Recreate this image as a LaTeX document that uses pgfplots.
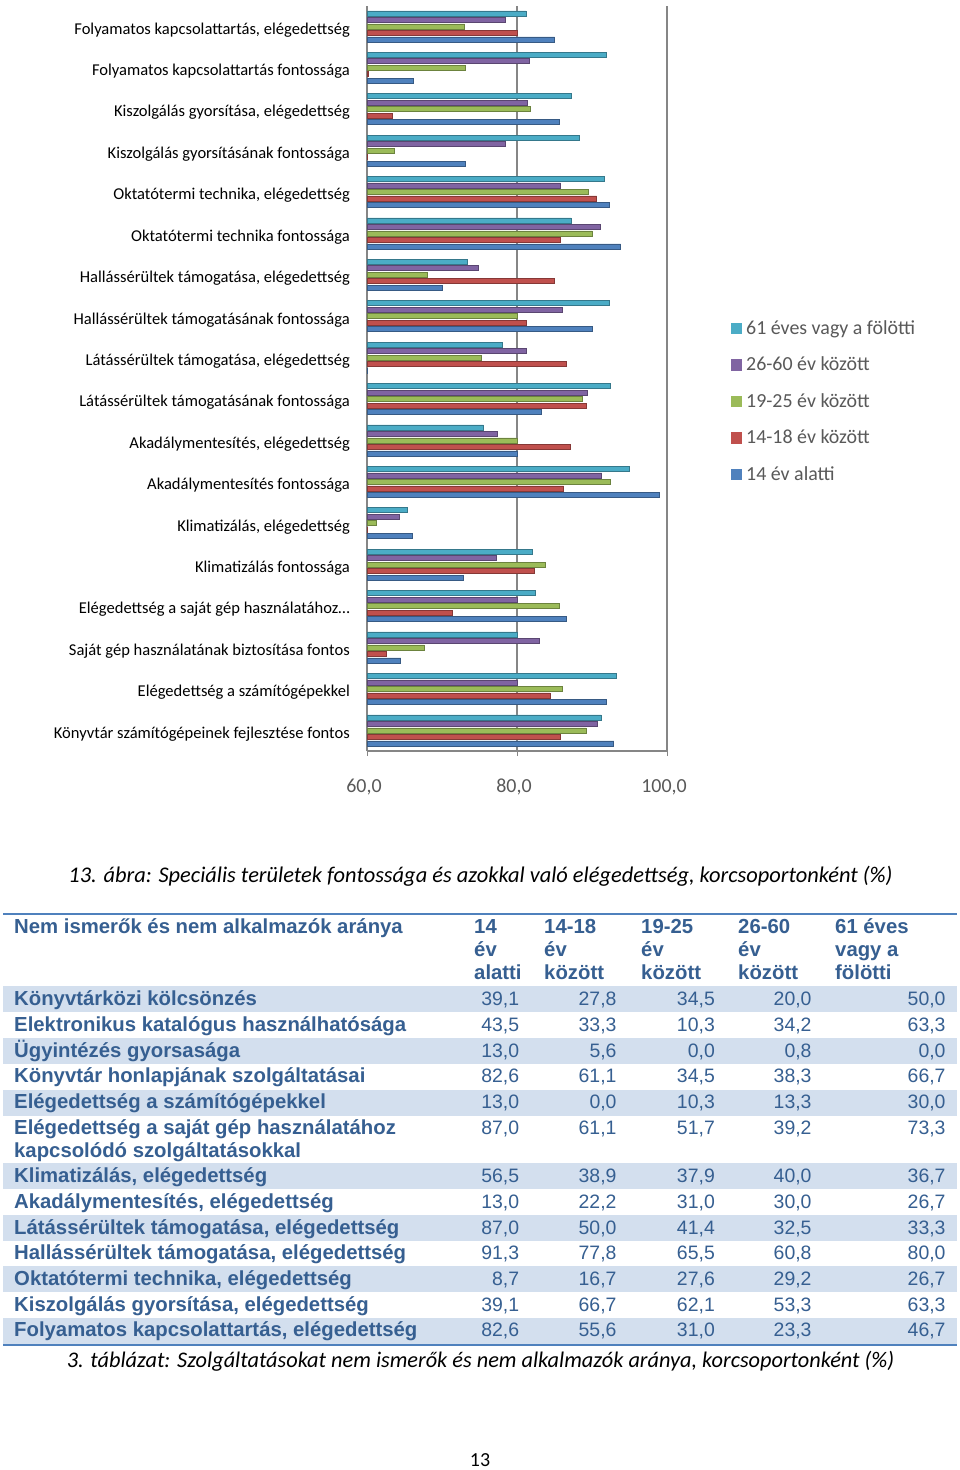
\documentclass[border=0pt]{standalone}
\usepackage{fontspec}
\setmainfont{Carlito}
\newfontfamily\arial{Liberation Sans}
\usepackage{pgfplots}
\pgfplotsset{compat=1.18}
\definecolor{cC}{HTML}{4BACC6}
\definecolor{cP}{HTML}{8064A2}
\definecolor{cG}{HTML}{9BBB59}
\definecolor{cR}{HTML}{C0504D}
\definecolor{cB}{HTML}{4F81BD}
\definecolor{tblue}{HTML}{365F91}
\definecolor{tshade}{HTML}{D3DFEE}
\definecolor{trule}{HTML}{4F81BD}
\definecolor{axgray}{HTML}{868686}
\definecolor{labgray}{HTML}{595959}
\tikzset{
 tl/.style={anchor=base west, inner sep=0pt, text=tblue, font=\arial\bfseries\fontsize{20.4}{24}\selectfont},
 tn/.style={anchor=base east, inner sep=0pt, text=tblue, font=\arial\fontsize{19.5}{24}\selectfont},
}
\newcommand{\trow}[7]{%
 \node[tl] at (14bp,-#1bp) {#2};
 \node[tn] at (519.3bp,-#1bp) {#3};
 \node[tn] at (616.7bp,-#1bp) {#4};
 \node[tn] at (715bp,-#1bp) {#5};
 \node[tn] at (811.7bp,-#1bp) {#6};
 \node[tn] at (945.7bp,-#1bp) {#7};}
\begin{document}
\begin{tikzpicture}
\path[use as bounding box, fill=white] (0bp,0bp) rectangle (960bp,-1470bp);
\begin{axis}[
 at={(367bp,-751bp)}, anchor=south west,
 scale only axis, width=300bp, height=745.4bp,
 xmin=60, xmax=100, ymin=-0.5, ymax=17.5,
 xbar, bar width=5bp,
 axis lines*=left,
 axis line style={-, draw=axgray, line width=1.2bp},
 xmajorgrids, major x grid style={draw=axgray, line width=1.2bp},
 tick align=outside, major tick length=5bp, minor tick length=5bp,
 xtick={60,80,100},
 xticklabels={{60,0},{80,0},{100,0}},
 xtick style={draw=axgray, line width=1bp},
 xticklabel style={anchor=north, inner sep=0pt, yshift=-23bp, xshift=-3bp, text=labgray, font=\fontsize{20}{24}\selectfont},
 ytick=\empty,
 minor ytick={-0.5,0.5,...,17.5},
 minor y tick style={draw=axgray, line width=1bp},
 extra y ticks={0,1,...,17},
 extra y tick labels={Könyvtár számítógépeinek fejlesztése fontos,
  Elégedettség a számítógépekkel,
  Saját gép használatának biztosítása fontos,
  Elégedettség a saját gép használatához…,
  Klimatizálás fontossága,
  {Klimatizálás, elégedettség},
  Akadálymentesítés fontossága,
  {Akadálymentesítés, elégedettség},
  Látássérültek támogatásának fontossága,
  {Látássérültek támogatása, elégedettség},
  Hallássérültek támogatásának fontossága,
  {Hallássérültek támogatása, elégedettség},
  Oktatótermi technika fontossága,
  {Oktatótermi technika, elégedettség},
  Kiszolgálás gyorsításának fontossága,
  {Kiszolgálás gyorsítása, elégedettség},
  Folyamatos kapcsolattartás fontossága,
  {Folyamatos kapcsolattartás, elégedettség}},
 extra y tick style={major tick length=0bp, ytick style={draw=none},
  yticklabel style={anchor=east, inner sep=0pt, xshift=-17bp, yshift=-3.5bp, text=black, font=\fontsize{16.6}{20}\selectfont}},
 legend style={at={(1.2123,0.5782)}, anchor=north west, draw=none, fill=none,
  inner sep=0pt, outer sep=0pt, font=\fontsize{20}{24}\selectfont, text=labgray,
  row sep=18.5bp, column sep=4bp,
  nodes={inner sep=0pt, text height=14bp, text depth=4bp},
  cells={anchor=base west}},
 legend image code/.code={\fill[#1, draw=none] (0bp,0bp) rectangle (11.5bp,11.5bp);},
]
\addplot[bar shift=13bp, fill=cC, draw=cC!70!black, line width=0.6bp] coordinates {
(91.2,0) (93.2,1) (80.0,2) (82.5,3) (82.1,4) (65.4,5) (95.0,6) (75.5,7) (92.4,8)
(78.0,9) (92.3,10) (73.4,11) (87.2,12) (91.7,13) (88.3,14) (87.2,15) (91.9,16) (81.2,17)};
\addlegendentry{61 éves vagy a fölötti}
\addplot[bar shift=6.5bp, fill=cP, draw=cP!70!black, line width=0.6bp] coordinates {
(90.7,0) (80.0,1) (83.0,2) (80.0,3) (77.3,4) (64.3,5) (91.3,6) (77.4,7) (89.4,8)
(81.2,9) (86.1,10) (74.9,11) (91.1,12) (85.8,13) (78.5,14) (81.4,15) (81.6,16) (78.5,17)};
\addlegendentry{26-60 év között}
\addplot[bar shift=0bp, fill=cG, draw=cG!70!black, line width=0.6bp] coordinates {
(89.2,0) (86.1,1) (67.6,2) (85.6,3) (83.8,4) (61.2,5) (92.5,6) (80.0,7) (88.7,8)
(75.3,9) (80.0,10) (68.1,11) (90.0,12) (89.5,13) (63.6,14) (81.8,15) (73.1,16) (73.0,17)};
\addlegendentry{19-25 év között}
\addplot[bar shift=-6.5bp, fill=cR, draw=cR!70!black, line width=0.6bp] coordinates {
(85.8,0) (84.4,1) (62.6,2) (71.4,3) (82.3,4) (60.1,5) (86.2,6) (87.1,7) (89.2,8)
(86.6,9) (81.3,10) (85.0,11) (85.8,12) (90.6,13) (60.1,14) (63.4,15) (60.2,16) (80.0,17)};
\addlegendentry{14-18 év között}
\addplot[bar shift=-13bp, fill=cB, draw=cB!70!black, line width=0.6bp] coordinates {
(92.9,0) (91.9,1) (64.5,2) (86.6,3) (72.8,4) (66.1,5) (99.0,6) (80.0,7) (83.3,8)
(60.1,9) (90.0,10) (70.0,11) (93.8,12) (92.3,13) (73.1,14) (85.6,15) (66.2,16) (85.0,17)};
\addlegendentry{14 év alatti}
\end{axis}
% caption
\node[anchor=base, inner sep=0pt, font=\itshape\fontsize{22.5}{26}\selectfont] at (480.5bp,-882.5bp)
 {13. ábra: Speciális területek fontossága és azokkal való elégedettség, korcsoportonként (\%)};
% table shading and rules
\foreach \a/\b in {986/1012,1038/1064,1090/1116,1163/1189,1214.5/1240.5,1266/1292,1317.5/1343.5}
 \fill[tshade] (3bp,-\a bp) rectangle (957bp,-\b bp);
\draw[trule, line width=2.5bp] (3bp,-914bp) -- (957bp,-914bp);
\draw[trule, line width=1.5bp] (3bp,-1345bp) -- (957bp,-1345bp);
% header
\node[tl] at (14bp,-933.7bp) {Nem ismerők és nem alkalmazók aránya};
\foreach \x/\l/\m/\n in {474/14/év/alatti,544/14-18/év/között,641/19-25/év/között,738/26-60/év/között,835/61 éves/vagy a/fölötti}{
 \node[tl] at (\x bp,-933.7bp) {\l};
 \node[tl] at (\x bp,-956.7bp) {\m};
 \node[tl] at (\x bp,-979.7bp) {\n};}
% rows
\trow{1005.7}{Könyvtárközi kölcsönzés}{39,1}{27,8}{34,5}{20,0}{50,0}
\trow{1031.4}{Elektronikus katalógus használhatósága}{43,5}{33,3}{10,3}{34,2}{63,3}
\trow{1057}{Ügyintézés gyorsasága}{13,0}{5,6}{0,0}{0,8}{0,0}
\trow{1082.7}{Könyvtár honlapjának szolgáltatásai}{82,6}{61,1}{34,5}{38,3}{66,7}
\trow{1108.4}{Elégedettség a számítógépekkel}{13,0}{0,0}{10,3}{13,3}{30,0}
\trow{1134}{Elégedettség a saját gép használatához}{87,0}{61,1}{51,7}{39,2}{73,3}
\node[tl] at (14bp,-1157bp) {kapcsolódó szolgáltatásokkal};
\trow{1182.7}{Klimatizálás, elégedettség}{56,5}{38,9}{37,9}{40,0}{36,7}
\trow{1208.4}{Akadálymentesítés, elégedettség}{13,0}{22,2}{31,0}{30,0}{26,7}
\trow{1234}{Látássérültek támogatása, elégedettség}{87,0}{50,0}{41,4}{32,5}{33,3}
\trow{1259.7}{Hallássérültek támogatása, elégedettség}{91,3}{77,8}{65,5}{60,8}{80,0}
\trow{1285.4}{Oktatótermi technika, elégedettség}{8,7}{16,7}{27,6}{29,2}{26,7}
\trow{1311}{Kiszolgálás gyorsítása, elégedettség}{39,1}{66,7}{62,1}{53,3}{63,3}
\trow{1336.7}{Folyamatos kapcsolattartás, elégedettség}{82,6}{55,6}{31,0}{23,3}{46,7}
\node[anchor=base, inner sep=0pt, font=\itshape\fontsize{22.4}{26}\selectfont] at (480.5bp,-1367.3bp)
 {3. táblázat: Szolgáltatásokat nem ismerők és nem alkalmazók aránya, korcsoportonként (\%)};
\node[anchor=base, inner sep=0pt, font=\fontsize{20}{24}\selectfont] at (480bp,-1466.5bp) {13};
\end{tikzpicture}
\end{document}
